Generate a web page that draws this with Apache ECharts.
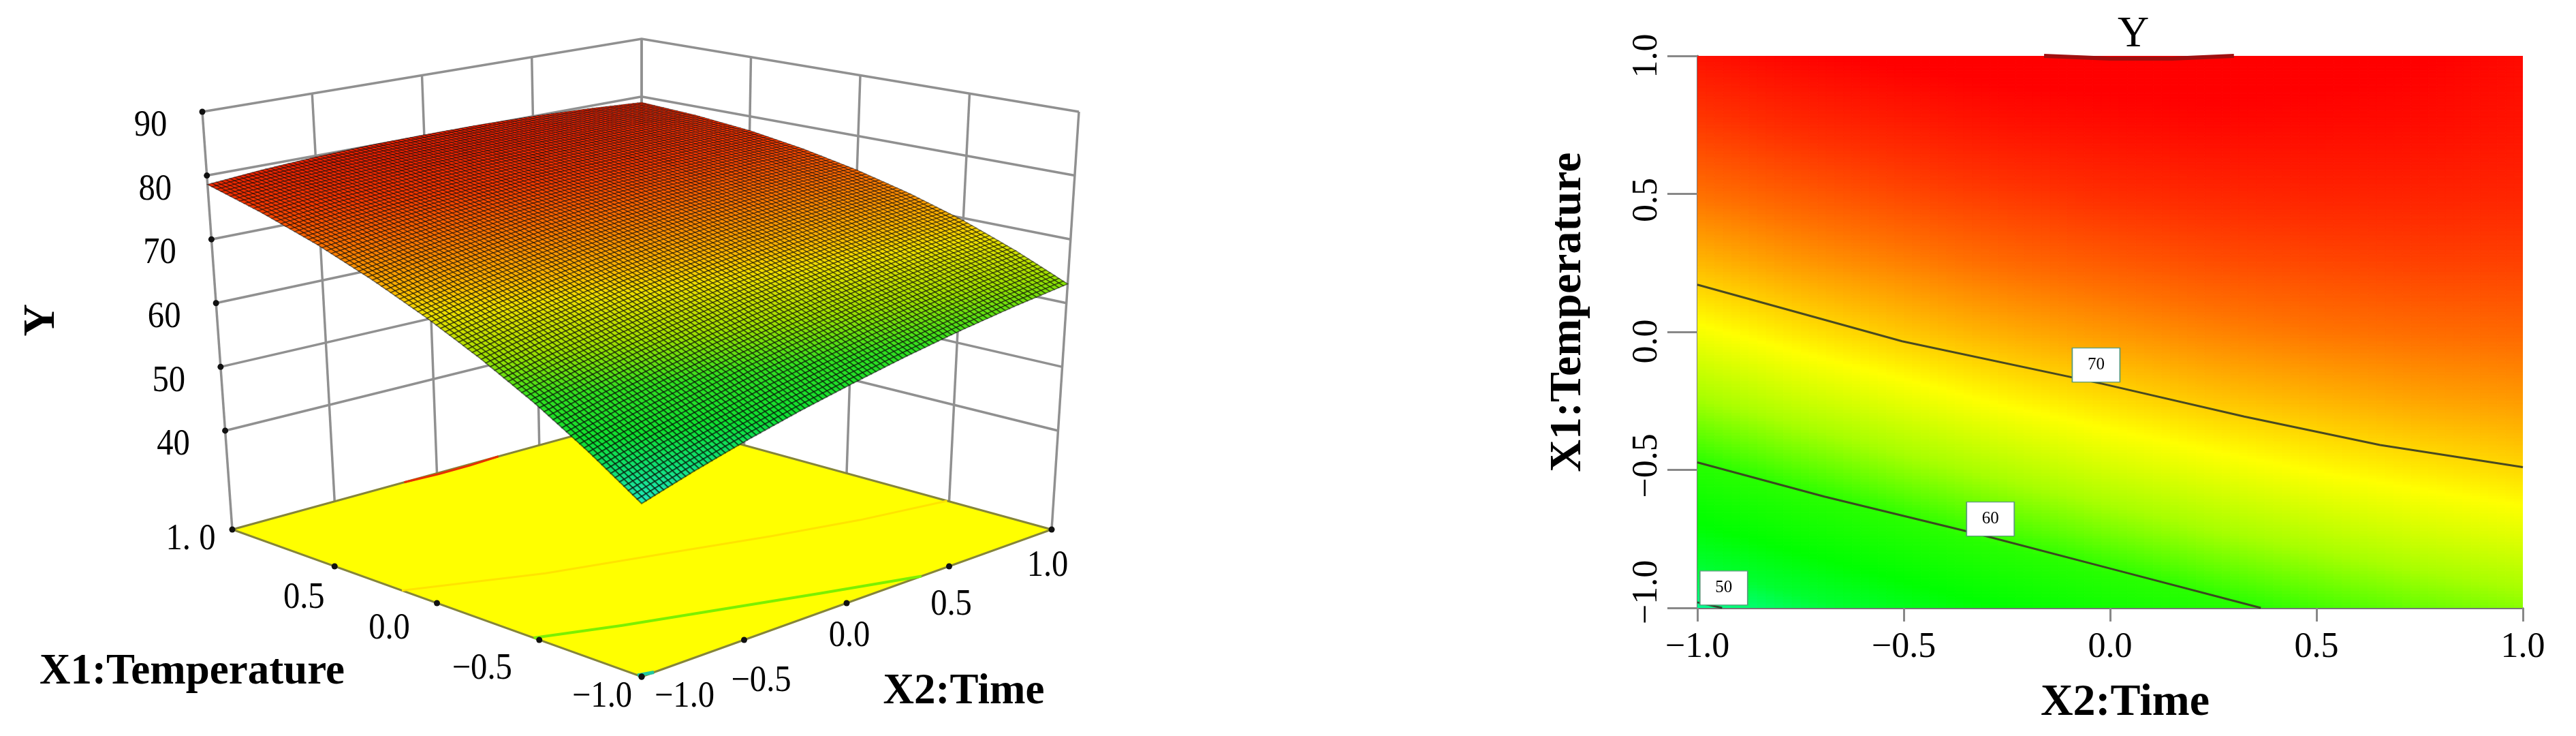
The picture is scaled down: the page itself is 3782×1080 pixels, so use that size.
<!DOCTYPE html>
<html><head><meta charset="utf-8">
<style>html,body{margin:0;padding:0;background:#fff}#c{width:3782px;height:1080px}</style>
<script src="https://cdn.jsdelivr.net/npm/echarts@6/dist/echarts.min.js"></script>
</head><body><div id="c"></div>
<script>
// ---------- values ----------
const x1Grid = [-1, -0.75, -0.5, -0.25, 0, 0.25, 0.5, 0.75, 1];
const x2Grid = [-1, -0.75, -0.5, -0.25, 0, 0.25, 0.5, 0.75, 1];
const yRows = [
  [49.8, 52.1, 54.2, 56.1, 57.8, 59.4, 60.8, 62.0, 63.0],
  [54.9, 57.0, 58.8, 60.6, 62.1, 63.5, 64.6, 65.7, 66.5],
  [59.6, 61.4, 63.1, 64.6, 66.0, 67.1, 68.1, 68.9, 69.6],
  [63.8, 65.5, 66.9, 68.3, 69.4, 70.4, 71.1, 71.8, 72.2],
  [67.6, 69.1, 70.4, 71.5, 72.4, 73.2, 73.8, 74.2, 74.4],
  [71.0, 72.3, 73.3, 74.3, 75.0, 75.6, 75.9, 76.2, 76.2],
  [74.0, 75.0, 75.9, 76.6, 77.2, 77.5, 77.7, 77.7, 77.6],
  [76.5, 77.4, 78.0, 78.6, 78.9, 79.1, 79.0, 78.9, 78.5],
  [78.6, 79.3, 79.8, 80.1, 80.2, 80.2, 80.0, 79.6, 79.0]
];
const contour50 = [[-1, -0.98], [-0.94, -1]];
const contour60 = [[-1, -0.473], [-0.692, -0.597], [-0.316, -0.734], [0.012, -0.862], [0.365, -1]];
const contour70 = [[-1, 0.171], [-0.504, -0.034], [-0.019, -0.188], [0.325, -0.307], [0.654, -0.41], [1, -0.49]];
const contour80 = [[-0.16, 1], [0, 0.99], [0.15, 0.99], [0.3, 1]];
const contourLabels = [[-0.034, -0.12, '70'], [-0.29, -0.678, '60'], [-0.936, -0.928, '50']];
const yTicks = [40, 50, 60, 70, 80, 90];
const x1Ticks = [-1, -0.5, 0, 0.5, 1];
const x2Ticks = [-1, -0.5, 0, 0.5, 1];
const yTickLabels = ['40', '50', '60', '70', '80', '90'];
const x1TickLabels = ['\u22121.0', '\u22120.5', '0.0', '0.5', '1. 0'];
const x2TickLabels = ['\u22121.0', '\u22120.5', '0.0', '0.5', '1.0'];
const colorValues = [44, 50, 53, 56, 60, 64, 68, 70, 74, 77, 79.5];
const colorHex = ['#00ffd0', '#00ff90', '#00ff30', '#00ff00', '#28ff00', '#a8ff00', '#ffff00', '#ffd000', '#ff7000', '#ff3000', '#ff0000'];
const surfaceHex = ['#00ffe0', '#20e8b8', '#10e070', '#10e030', '#30e020', '#a0e000', '#f0e000', '#ffb800', '#ff7000', '#f83800', '#e82000'];

// ---------- camera of the 3-D box (scene units are page pixels) ----------
const FLOOR_Y = 24.5, TOP_Y = 90;
const floorQuad = [[942, 993], [1544, 777], [942, 612], [341, 777]];  // (x2,x1) = (-1,-1),(1,-1),(1,1),(-1,1)
const topQuad = [[942, 335], [1584, 164], [942, 57], [297, 164]];
function bilinear(q,u,v,k){return q[0][k]*(1-u)*(1-v)+q[1][k]*u*(1-v)+q[2][k]*u*v+q[3][k]*(1-u)*v;}
function project(x2, x1, y) {
  const u=(x2+1)/2, v=(x1+1)/2, k=(y-FLOOR_Y)/(TOP_Y-FLOOR_Y);
  const fx=bilinear(floorQuad,u,v,0), fy=bilinear(floorQuad,u,v,1), tx=bilinear(topQuad,u,v,0), ty=bilinear(topQuad,u,v,1);
  return [fx+(tx-fx)*k, fy+(ty-fy)*k];
}
function hexRgb(h){return [parseInt(h.substr(1,2),16),parseInt(h.substr(3,2),16),parseInt(h.substr(5,2),16)];}
const rgbStops = colorHex.map(hexRgb), rgbSurface = surfaceHex.map(hexRgb);
function colorOf(v,stops){
  const n=colorValues.length;
  if(v<=colorValues[0]) return 'rgb('+stops[0].join(',')+')';
  if(v>=colorValues[n-1]) return 'rgb('+stops[n-1].join(',')+')';
  let i=0; while(v>colorValues[i+1]) i++;
  const t=(v-colorValues[i])/(colorValues[i+1]-colorValues[i]), A=stops[i], B=stops[i+1];
  return 'rgb('+[0,1,2].map(k=>Math.round(A[k]+(B[k]-A[k])*t)).join(',')+')';
}
// shade inside one table cell (Gouraud style) from its four corner readings
function shade(i,j,s,t){
  const a=yRows[i][j],b=yRows[i][j+1],c=yRows[i+1][j],d=yRows[i+1][j+1];
  return a*(1-s)*(1-t)+b*s*(1-t)+c*(1-s)*t+d*s*t;
}
const cells=[];
for(let i=x1Grid.length-2;i>=0;i--)for(let j=x2Grid.length-2;j>=0;j--)cells.push([i,j]);

const MESH=12;
function renderSurface(params,api){
  const i=api.value(0),j=api.value(1),kids=[];
  const p=(a,b)=>{
    const x2=x2Grid[j]+(x2Grid[j+1]-x2Grid[j])*a, x1=x1Grid[i]+(x1Grid[i+1]-x1Grid[i])*b;
    return api.coord(project(x2,x1,shade(i,j,a,b)));
  };
  for(let b=MESH-1;b>=0;b--)for(let a=MESH-1;a>=0;a--){
    const s0=a/MESH,s1=(a+1)/MESH,t0=b/MESH,t1=(b+1)/MESH;
    const P=[p(s0,t0),p(s1,t0),p(s1,t1),p(s0,t1)];
    const area=Math.abs((P[2][0]-P[0][0])*(P[3][1]-P[1][1])-(P[3][0]-P[1][0])*(P[2][1]-P[0][1]))/2;
    kids.push({type:'polygon',shape:{points:P},
      style:{fill:colorOf(shade(i,j,(s0+s1)/2,(t0+t1)/2),rgbSurface),stroke:'rgba(0,0,0,0.5)',lineWidth:0.4+area*0.026}});
  }
  return {type:'group',children:kids};
}
function polyLine(api,pts,style){return {type:'polyline',shape:{points:pts.map(q=>api.coord(q))},style:Object.assign({fill:null},style)};}
function renderBox(params,api){
  const kids=[], grey={stroke:'#909090',lineWidth:3.5};
  yTicks.forEach(y=>{
    kids.push(polyLine(api,[project(-1,1,y),project(1,1,y),project(1,-1,y)],grey));
  });
  x2Ticks.forEach(x=>kids.push(polyLine(api,[project(x,1,FLOOR_Y),project(x,1,TOP_Y)],grey)));
  x1Ticks.forEach(x=>kids.push(polyLine(api,[project(1,x,FLOOR_Y),project(1,x,TOP_Y)],grey)));
  // floor
  kids.push({type:'polygon',shape:{points:[project(-1,-1,FLOOR_Y),project(1,-1,FLOOR_Y),project(1,1,FLOOR_Y),project(-1,1,FLOOR_Y)].map(q=>api.coord(q))},
    style:{fill:'#ffff00',stroke:'#85853a',lineWidth:3}});
  const onFloor=c=>c.map(q=>project(q[0],q[1],FLOOR_Y));
  kids.push(polyLine(api,onFloor(contour50),{stroke:'#20c8a0',lineWidth:5}));
  kids.push(polyLine(api,onFloor(contour60),{stroke:'#7cf000',lineWidth:4}));
  kids.push(polyLine(api,onFloor(contour70),{stroke:'#ffe400',lineWidth:3}));
  kids.push(polyLine(api,onFloor(contour80),{stroke:'#e83000',lineWidth:3}));
  return {type:'group',children:kids};
}
const serifName='Liberation Serif';
function renderTicks(params,api){
  const kids=[], dot=q=>{const c=api.coord(q);kids.push({type:'circle',shape:{cx:c[0],cy:c[1],r:4.5},style:{fill:'#111'}});};
  yTicks.forEach(y=>dot(project(-1,1,y)));
  x1Ticks.forEach(x=>dot(project(-1,x,FLOOR_Y)));
  x2Ticks.forEach(x=>dot(project(x,-1,FLOOR_Y)));
  const txt=(q,dx,dy,s)=>{const c=api.coord(q);kids.push({type:'text',x:c[0]+dx,y:c[1]+dy,scaleX:0.9,
    style:{text:s,fontFamily:serifName,fontSize:54,fill:'#000',align:'center',verticalAlign:'middle'}});};
  yTicks.forEach((y,i)=>txt(project(-1,1,y),-76,21,yTickLabels[i]));
  const x1Off=[[-58,30],[-84,43],[-70,38],[-45,47],[-61,15]];
  x1Ticks.forEach((x,i)=>txt(project(-1,x,FLOOR_Y),x1Off[i][0],x1Off[i][1],x1TickLabels[i]));
  const x2Off=[[63,30],[25,61],[4,49],[3,57],[-6,54]];
  x2Ticks.forEach((x,i)=>txt(project(x,-1,FLOOR_Y),x2Off[i][0],x2Off[i][1],x2TickLabels[i]));
  return {type:'group',children:kids};
}
function renderHeat(params,api){
  const i=api.value(0),j=api.value(1),kids=[],NX=12,NY=24;
  for(let b=0;b<NY;b++)for(let a=0;a<NX;a++){
    const x20=x2Grid[j]+(x2Grid[j+1]-x2Grid[j])*a/NX, x21=x2Grid[j]+(x2Grid[j+1]-x2Grid[j])*(a+1)/NX;
    const x10=x1Grid[i]+(x1Grid[i+1]-x1Grid[i])*b/NY, x11=x1Grid[i]+(x1Grid[i+1]-x1Grid[i])*(b+1)/NY;
    const A=api.coord([x20,x11]),B=api.coord([x21,x10]);
    const col=colorOf(shade(i,j,(a+.5)/NX,(b+.5)/NY),rgbStops);
    kids.push({type:'rect',shape:{x:A[0],y:A[1],width:B[0]-A[0],height:B[1]-A[1]},style:{fill:col,stroke:col,lineWidth:1}});
  }
  return {type:'group',children:kids};
}
const chart=echarts.init(document.getElementById('c'),null,{renderer:'canvas'});
const contourLine=(d,color,w)=>({type:'line',xAxisIndex:1,yAxisIndex:1,data:d,showSymbol:false,symbol:'none',z:5,clip:true,
  lineStyle:{color:color,width:w},smooth:false,animation:false});
const fmt=v=>(v<0?'\u2212':'')+Math.abs(v).toFixed(1);
const yLabelKey={'-1':'a','-0.5':'b','0':'c','0.5':'d','1':'e'};
chart.setOption({
  animation:false,backgroundColor:'#fff',
  title:[{text:'Y',left:3127,top:14,textAlign:'center',textStyle:{fontFamily:serifName,fontSize:64,fontWeight:'normal',color:'#000'}}],
  grid:[{left:0,top:0,width:3782,height:1080,show:false,outerBoundsMode:'none'},
        {left:2492,top:82,width:1212,height:810,show:false,containLabel:false,outerBoundsMode:'none'}],
  xAxis:[
    {gridIndex:0,type:'value',min:0,max:3782,show:false},
    {gridIndex:1,type:'value',min:-1,max:1,interval:0.5,name:'X2:Time',nameLocation:'middle',nameGap:107,
     nameTextStyle:{fontFamily:serifName,fontSize:66,fontWeight:'bold',color:'#000',padding:[0,0,0,44]},
     axisLine:{show:true,onZero:false,lineStyle:{color:'#777',width:3}},axisTick:{show:true,length:20,lineStyle:{color:'#888',width:3}},
     splitLine:{show:false},axisLabel:{margin:32,fontFamily:serifName,fontSize:52,color:'#000',formatter:fmt}}
  ],
  yAxis:[
    {gridIndex:0,type:'value',min:0,max:1080,inverse:true,show:false},
    {gridIndex:1,type:'value',min:-1,max:1,interval:0.5,name:'X1:Temperature',nameLocation:'middle',nameGap:156,nameRotate:90,
     nameTextStyle:{fontFamily:serifName,fontSize:66,fontWeight:'bold',color:'#000',padding:[0,0,0,58]},
     axisLine:{show:true,onZero:false,lineStyle:{color:'#777',width:3}},axisTick:{show:true,length:44,lineStyle:{color:'#888',width:3}},
     splitLine:{show:false},
     axisLabel:{rotate:90,margin:48,fontFamily:serifName,fontSize:52,color:'#000',
       formatter:v=>'{'+yLabelKey[String(v)]+'|'+fmt(v)+'}',
       rich:{a:{padding:[0,0,0,46],fontFamily:serifName,fontSize:52},b:{padding:[0,0,0,12],fontFamily:serifName,fontSize:52},
             c:{padding:[0,28,0,0],fontFamily:serifName,fontSize:52},d:{padding:[0,18,0,0],fontFamily:serifName,fontSize:52},
             e:{fontFamily:serifName,fontSize:52}}}}
  ],
  graphic:[
    {type:'text',x:282,y:987,z:10,style:{text:'X1:Temperature',fontFamily:serifName,fontWeight:'bold',fontSize:63,fill:'#000',align:'center',verticalAlign:'middle'}},
    {type:'text',x:1415,y:1016,z:10,style:{text:'X2:Time',fontFamily:serifName,fontWeight:'bold',fontSize:63,fill:'#000',align:'center',verticalAlign:'middle'}},
    {type:'text',x:62,y:470,rotation:Math.PI/2,z:10,style:{text:'Y',fontFamily:serifName,fontWeight:'bold',fontSize:66,fill:'#000',align:'center',verticalAlign:'middle'}}
  ],
  series:[
    {type:'custom',xAxisIndex:0,yAxisIndex:0,coordinateSystem:'cartesian2d',data:[[0,0]],renderItem:renderBox,z:1,silent:true,clip:false},
    {type:'custom',xAxisIndex:0,yAxisIndex:0,coordinateSystem:'cartesian2d',data:cells,encode:{x:0,y:1},renderItem:renderSurface,z:2,silent:true,clip:false,progressive:0},
    {type:'custom',xAxisIndex:0,yAxisIndex:0,coordinateSystem:'cartesian2d',data:[[0,0]],renderItem:renderTicks,z:3,silent:true,clip:false},
    {type:'custom',xAxisIndex:1,yAxisIndex:1,coordinateSystem:'cartesian2d',data:cells,encode:{x:0,y:1},renderItem:renderHeat,z:1,silent:true,clip:true,progressive:0},
    contourLine(contour50,'#2e4a2e',3),
    contourLine(contour60,'#3a4a20',3),
    contourLine(contour70,'#4a4a20',3),
    contourLine(contour80,'#a01010',6),
    {type:'scatter',xAxisIndex:1,yAxisIndex:1,z:6,clip:false,symbol:'rect',symbolSize:[70,50],
     data:contourLabels.map(d=>({value:[d[0],d[1]],label:{formatter:d[2]}})),
     itemStyle:{color:'#fff',borderColor:'#5a9a7a',borderWidth:1.5,opacity:1},
     label:{show:true,position:'inside',fontFamily:serifName,fontSize:25,color:'#000'}}
  ]
});
</script></body></html>
